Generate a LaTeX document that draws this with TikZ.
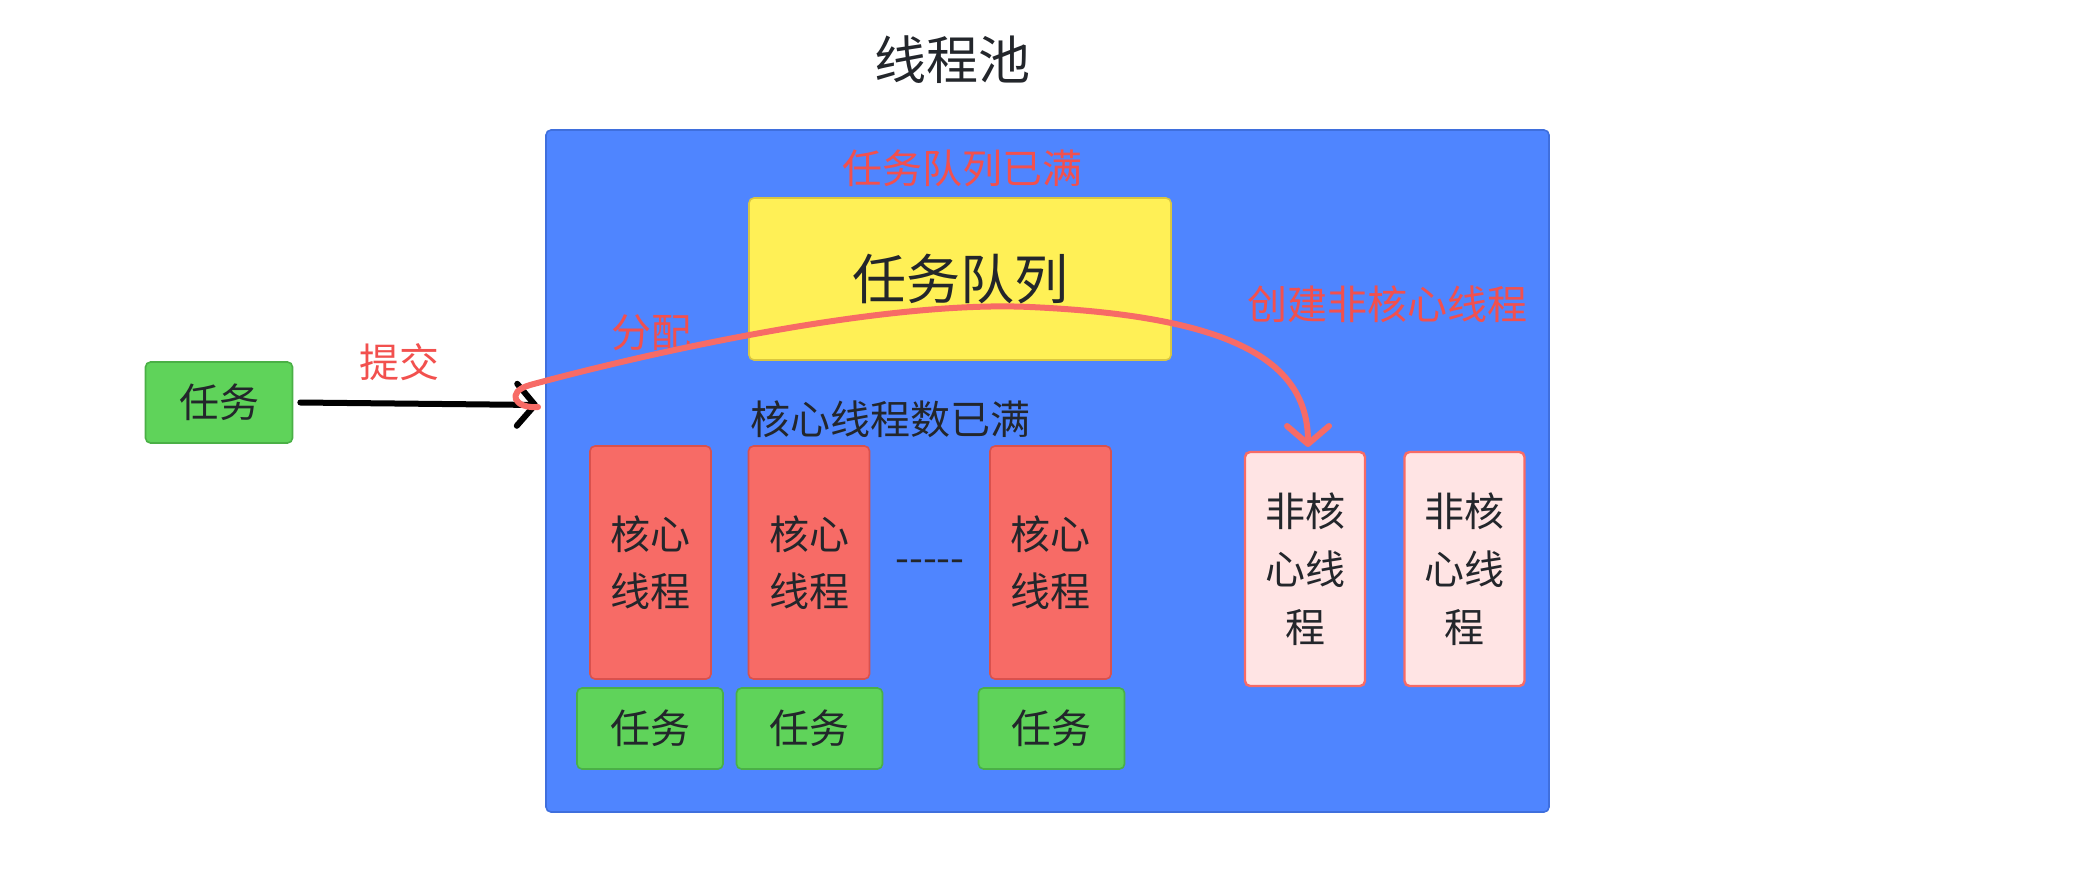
\documentclass[tikz,border=0pt]{standalone}
\usepackage{fontspec}
\setmainfont{Noto Sans CJK SC}
\usetikzlibrary{arrows.meta}
\definecolor{poolblue}{HTML}{4F85FF}
\definecolor{poolborder}{HTML}{3F6FDD}
\definecolor{queueyellow}{HTML}{FFF056}
\definecolor{queueborder}{HTML}{D9C640}
\definecolor{corered}{HTML}{F76B66}
\definecolor{coreborder}{HTML}{D9514D}
\definecolor{taskgreen}{HTML}{5FD35A}
\definecolor{taskborder}{HTML}{4AB046}
\definecolor{ncpink}{HTML}{FFE4E4}
\definecolor{ncborder}{HTML}{F76B66}
\definecolor{redtext}{HTML}{F2504E}
\definecolor{darktext}{HTML}{23262B}
\tikzset{
  box/.style={draw, line width=0.8pt, rounded corners=2.5pt, inner sep=0pt, text=darktext, align=center},
  poolbox/.style={box, fill=poolblue, draw=poolborder},
  queuebox/.style={box, fill=queueyellow, draw=queueborder, font=\fontsize{27pt}{32pt}\selectfont},
  corebox/.style={box, fill=corered, draw=coreborder, minimum width=60.5pt, minimum height=116.5pt, font=\fontsize{20pt}{28.5pt}\selectfont},
  taskbox/.style={box, fill=taskgreen, draw=taskborder, minimum width=73pt, minimum height=40.5pt, font=\fontsize{20pt}{24pt}\selectfont},
  ncbox/.style={box, fill=ncpink, draw=ncborder, line width=1.2pt, minimum width=60pt, minimum height=117pt, font=\fontsize{20pt}{29pt}\selectfont},
  redlabel/.style={text=redtext, inner sep=0pt, font=\fontsize{20pt}{24pt}\selectfont},
  darklabel/.style={text=darktext, inner sep=0pt, font=\fontsize{20pt}{24pt}\selectfont},
  chevron/.style={-{Straight Barb[length=9pt,width=21pt,line cap=round,line join=round]}, line cap=round, line join=round, line width=3pt}
}
\begin{document}
\begin{tikzpicture}[x=0.5pt,y=-0.5pt]
\useasboundingbox (0,0) rectangle (2080,889);
% title
\node[darklabel, font=\fontsize{26pt}{30pt}\selectfont] (title) at (952,60) {线程池};
% pool
\node[poolbox, minimum width=501.5pt, minimum height=341pt] (pool) at (1047.5,471) {};
% queue
\node[queuebox, minimum width=211pt, minimum height=81pt] (queue) at (960,279) {任务队列};
\node[redlabel] (qfull) at (962,168) {任务队列已满};
% incoming task
\node[taskbox, minimum width=73.5pt] (task0) at (219,402.5) {任务};
\node[redlabel] (submit) at (399,362) {提交};
\coordinate (ain) at (538,405);
\draw[chevron, black] (task0.east) ++(7,0) coordinate (aout) -- (ain);
% core threads
\node[darklabel] (corefull) at (890,419) {核心线程数已满};
\node[corebox] (core1) at (650.5,562.5) {核心\\线程};
\node[corebox] (core2) at (809,562.5) {核心\\线程};
\node[corebox] (core3) at (1050.5,562.5) {核心\\线程};
\node[darklabel] (dots) at (930,566) {-{}-{}-{}-{}-};
\node[taskbox] (t1) at (650,728.5) {任务};
\node[taskbox] (t2) at (809.5,728.5) {任务};
\node[taskbox] (t3) at (1051.5,728.5) {任务};
% non-core threads
\node[ncbox] (nc1) at (1305,569) {非核\\心线\\程};
\node[ncbox] (nc2) at (1464.5,569) {非核\\心线\\程};
% labels
\node[redlabel] (assign) at (651,333) {分配};
\node[redlabel] (create) at (1387,304) {创建非核心线程};
% red curved arrow
\coordinate (rstart) at (538,407);
\coordinate (rend) at (1308,447);
\draw[chevron, draw=corered] (rstart) .. controls (515,409) and (505,392) .. (530,385)
  .. controls (640,355) and (880,300) .. (1030,307)
  .. controls (1230,316) and (1308,360) .. (rend);
\end{tikzpicture}
\end{document}
